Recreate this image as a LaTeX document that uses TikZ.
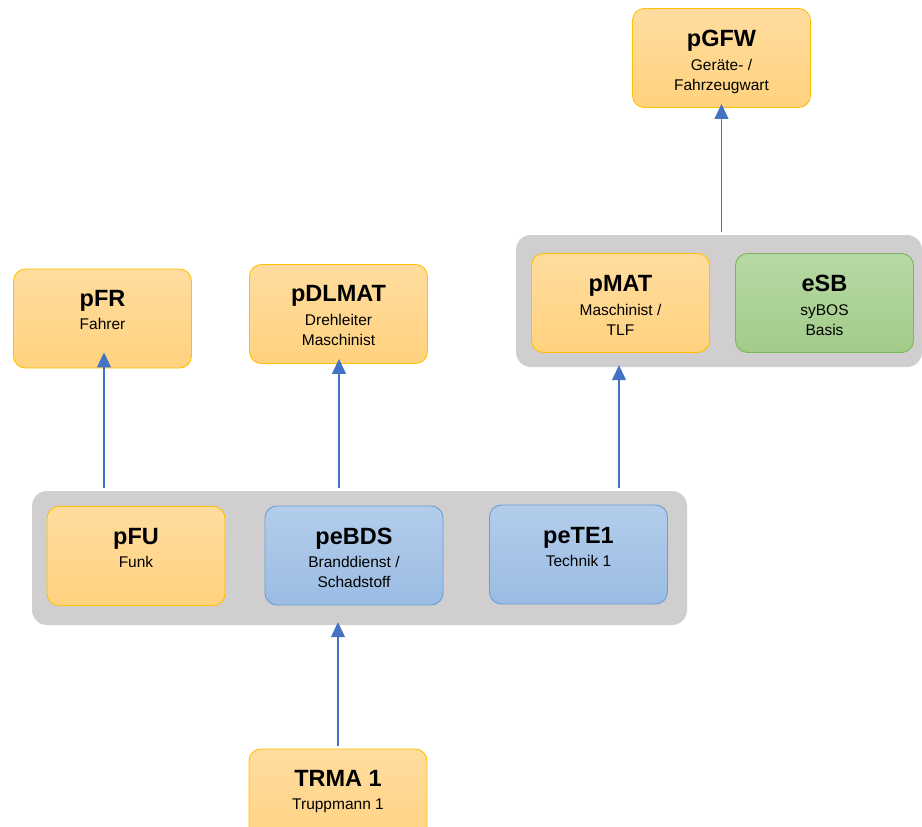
\documentclass[tikz,border=0pt]{standalone}
\usepackage{fontspec}
\setmainfont{Liberation Sans}
\usetikzlibrary{arrows.meta}

\definecolor{orTop}{HTML}{FFDC9F}
\definecolor{orBot}{HTML}{FFD27E}
\definecolor{orLine}{HTML}{FFC000}
\definecolor{blTop}{HTML}{B3CDEB}
\definecolor{blBot}{HTML}{9BBCE3}
\definecolor{blLine}{HTML}{6B9DD4}
\definecolor{grTop}{HTML}{B7D8A4}
\definecolor{grBot}{HTML}{A2CC89}
\definecolor{grLine}{HTML}{7DB55A}
\definecolor{grpFill}{HTML}{D0CECE}
\definecolor{linkCol}{HTML}{4472C4}

\begin{document}
\begin{tikzpicture}[x=1pt,y=-1pt,
 card/.style={rounded corners=12pt,minimum width=178pt,minimum height=99pt,line width=0.9pt,inner sep=0pt},
 orange/.style={card,draw=orLine,top color=orTop,bottom color=orBot},
 blue/.style={card,draw=blLine,top color=blTop,bottom color=blBot},
 green/.style={card,draw=grLine,top color=grTop,bottom color=grBot},
 group/.style={rounded corners=15pt,fill=grpFill,inner sep=0pt},
 txt/.style={anchor=north,inner sep=0pt,align=center,font=\fontsize{15.5}{20}\selectfont},
 link/.style={draw=linkCol,line width=1.2pt,-{Triangle[width=14pt,length=15pt]},shorten <=3pt}]
 \useasboundingbox (0,0) rectangle (922,827);
 % groups
 \node[group,minimum width=406pt,minimum height=132pt] (grpA) at (719,301) {};
 \node[group,minimum width=655pt,minimum height=134pt] (grpB) at (359.5,558) {};
 % cards
 \node[orange] (pgfw) at (721.5,58) {};
 \node[orange] (pfr) at (102.5,318.5) {};
 \node[orange] (pdlmat) at (338.5,314) {};
 \node[orange] (pmat) at (620.5,303) {};
 \node[green] (esb) at (824.5,303) {};
 \node[orange] (pfu) at (136,556) {};
 \node[blue] (pebds) at (354,555.5) {};
 \node[blue] (pete) at (578.5,554.5) {};
 \node[orange,minimum height=104pt] (trma) at (338,801) {};
 % texts
 \node[txt] (pgfw-t) at ([yshift=-22pt]pgfw.north) {{\bfseries\fontsize{23.5}{24}\selectfont pGFW}\\[4pt]Geräte- /\\Fahrzeugwart};
 \node[txt] (pfr-t) at ([yshift=-22pt]pfr.north) {{\bfseries\fontsize{23.5}{24}\selectfont pFR}\\[3pt]Fahrer};
 \node[txt] (pdlmat-t) at ([yshift=-21pt]pdlmat.north) {{\bfseries\fontsize{23.5}{24}\selectfont pDLMAT}\\[4pt]Drehleiter\\Maschinist};
 \node[txt] (pmat-t) at ([yshift=-22pt]pmat.north) {{\bfseries\fontsize{23.5}{24}\selectfont pMAT}\\[4pt]Maschinist /\\TLF};
 \node[txt] (esb-t) at ([yshift=-22pt]esb.north) {{\bfseries\fontsize{23.5}{24}\selectfont eSB}\\[4pt]syBOS\\Basis};
 \node[txt] (pfu-t) at ([yshift=-22pt]pfu.north) {{\bfseries\fontsize{23.5}{24}\selectfont pFU}\\[3pt]Funk};
 \node[txt] (pebds-t) at ([yshift=-22pt]pebds.north) {{\bfseries\fontsize{23.5}{24}\selectfont peBDS}\\[3pt]Branddienst /\\Schadstoff};
 \node[txt] (pete-t) at ([yshift=-23pt]pete.north) {{\bfseries\fontsize{23.5}{24}\selectfont peTE1}\\[3pt]Technik 1};
 \node[txt] (trma-t) at ([yshift=-22pt]trma.north) {{\bfseries\fontsize{23.5}{24}\selectfont TRMA 1}\\[3pt]Truppmann 1};
 % links
 \coordinate (upB) at (104,0);
 \coordinate (upC) at (339,0);
 \coordinate (upD) at (619,0);
 \draw[link] (grpB.north -| upB) -- ([yshift=16pt]pfr.south -| upB);
 \draw[link] (grpB.north -| upC) -- ([yshift=5pt]pdlmat.south -| upC);
 \draw[link] (grpB.north -| upD) -- ([yshift=2pt]grpA.south -| upD);
 \draw[link] (grpA.north -| pgfw.south) -- ([yshift=4pt]pgfw.south);
 \draw[link] (trma.north) -- ([yshift=3pt]grpB.south -| trma.north);
\end{tikzpicture}
\end{document}
